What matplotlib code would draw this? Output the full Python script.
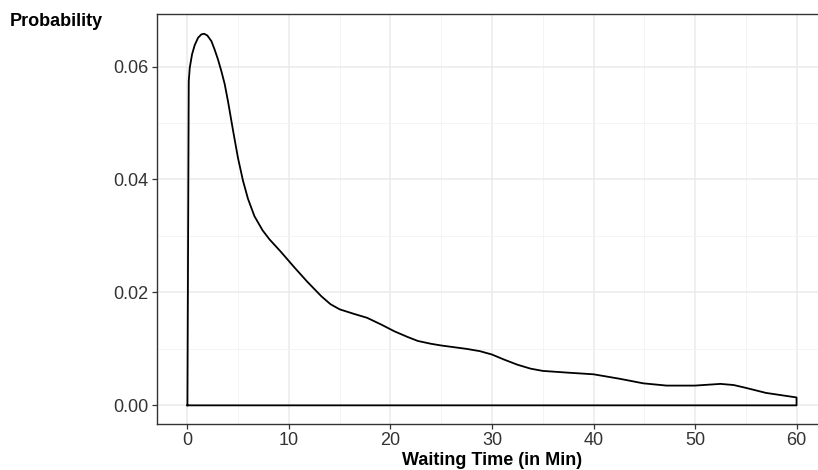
import matplotlib.pyplot as plt

plt.rcParams['font.family'] = ['Liberation Sans', 'DejaVu Sans']

# density curve (closed down to the baseline)
wait_min = [0, 0.13, 0.23, 0.46, 0.72, 1.05, 1.38, 1.64, 1.96, 2.36, 2.68,
            3.0, 3.34, 3.67, 4.0, 4.5, 4.98, 5.47, 5.96, 6.6, 7.4, 8.08,
            9.2, 10.5, 11.8, 13.2, 14.1, 15.0, 16.4, 17.7, 19.1, 20.4, 21.7,
            22.7, 24.0, 25.0, 27.5, 28.8, 30.0, 31.2, 32.5, 33.8, 35.0, 37.4,
            40.0, 42.6, 44.9, 47.2, 50.0, 52.5, 53.8, 55.0, 57.0, 60.0,
            60.0, 0]
density = [0, 0.0574, 0.0598, 0.0622, 0.0638, 0.0651, 0.0657, 0.0658, 0.0655,
           0.0645, 0.0630, 0.0613, 0.0592, 0.0569, 0.0538, 0.0486, 0.0438,
           0.0398, 0.0366, 0.0335, 0.0310, 0.0294, 0.0272, 0.0245, 0.0219,
           0.0193, 0.0179, 0.0170, 0.0162, 0.0155, 0.0143, 0.0131, 0.0121,
           0.0114, 0.0109, 0.0106, 0.0100, 0.0096, 0.0090, 0.0081, 0.0072,
           0.0065, 0.0061, 0.0058, 0.0055, 0.0047, 0.0039, 0.0035,
           0.0035, 0.0038, 0.0036, 0.0031, 0.0022, 0.0014, 0, 0]

x_ticks = [0, 10, 20, 30, 40, 50, 60]
y_ticks = [0.00, 0.02, 0.04, 0.06]

fig = plt.figure(figsize=(8.18, 4.70), dpi=100)
ax = fig.add_axes([0.1919, 0.0979, 0.8191, 0.8723])

ax.plot(wait_min, density, color='black', lw=1.3, solid_joinstyle='round')

ax.set_xlim(-3, 63)
ax.set_ylim(-0.0033, 0.0693)
ax.set_xticks(x_ticks)
ax.set_yticks(y_ticks)
ax.set_xticklabels([str(t) for t in x_ticks])
ax.set_yticklabels([f'{t:.2f}' for t in y_ticks])
ax.set_xticks([5, 15, 25, 35, 45, 55], minor=True)
ax.set_yticks([0.01, 0.03, 0.05], minor=True)

ax.grid(True, which='major', color='#EBEBEB', lw=1.1)
ax.grid(True, which='minor', color='#F2F2F2', lw=0.6)
ax.set_axisbelow(True)
ax.tick_params(which='minor', length=0)
ax.tick_params(which='major', length=3.5, width=0.9, color='#333333',
               labelsize=13, labelcolor='#333333', pad=2.5)
for sp in ax.spines.values():
    sp.set_color('#333333')
    sp.set_linewidth(1.0)

ax.set_xlabel('Waiting Time (in Min)', fontsize=13, fontweight='bold', labelpad=2)
fig.text(0.012, 0.955, 'Probability', fontsize=13, fontweight='bold', va='center')

fig.savefig('out.png', dpi=100)
